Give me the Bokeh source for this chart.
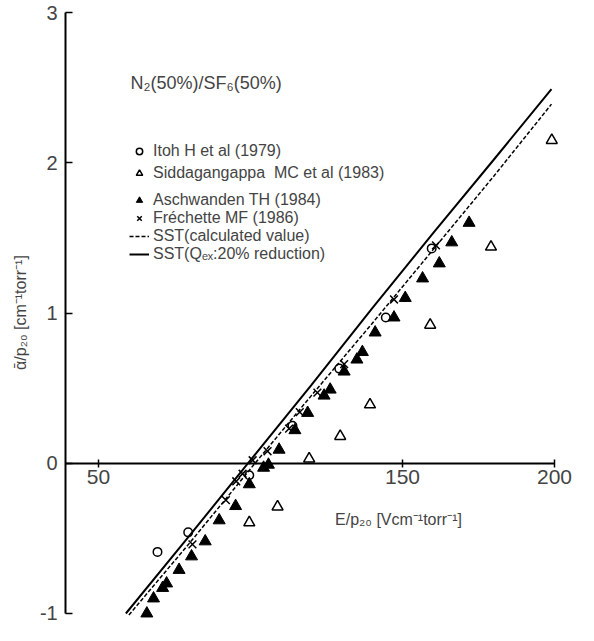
from bokeh.plotting import figure
from bokeh.models import Range1d, LinearAxis, FixedTicker, Legend, LegendItem, Label
from bokeh.embed import file_html
from bokeh.resources import INLINE
import math

# ---- data ----
itoh_x = [69.4, 79.5, 99.6, 113.8, 129.2, 144.5, 159.6]
itoh_y = [-0.59, -0.46, -0.08, 0.25, 0.63, 0.97, 1.43]

sidd_x = [99.6, 108.9, 119.3, 129.5, 139.3, 159.1, 179.1, 199.1]
sidd_y = [-0.395, -0.29, 0.03, 0.18, 0.39, 0.92, 1.44, 2.15]

asch_x = [65.9, 68.1, 71.1, 72.4, 76.5, 80.6, 85.1, 89.7, 95.1, 99.6, 104.3,
          105.9, 109.4, 114.6, 118.8, 124.2, 126.2, 130.8, 135.0, 136.8,
          141.0, 147.2, 150.9, 156.6, 162.1, 166.2, 171.9]
asch_y = [-1.0, -0.90, -0.83, -0.80, -0.71, -0.62, -0.52, -0.38, -0.285,
          -0.14, -0.03, -0.01, 0.09, 0.22, 0.335, 0.45, 0.49, 0.61, 0.69,
          0.74, 0.87, 0.97, 1.10, 1.23, 1.33, 1.47, 1.60]

frec_x = [80.9, 91.9, 95.3, 97.4, 100.7, 105.6, 112.7, 116.2, 122.0, 130.8, 147.2, 161.0]
frec_y = [-0.54, -0.245, -0.12, -0.07, 0.02, 0.08, 0.23, 0.34, 0.47, 0.66, 1.09, 1.45]

calc_x = [60, 80, 101.5, 120, 140, 160, 180, 199]
calc_y = [-1.01, -0.53, 0.0, 0.45, 0.93, 1.42, 1.91, 2.39]

red_x = [59, 80, 100, 120, 140, 160, 180, 199]
red_y = [-1.0, -0.48, 0.02, 0.52, 1.03, 1.53, 2.02, 2.49]

x_ticks = [50, 150, 200]
y_ticks = [-1, 0, 1, 2, 3]

labels = ["Itoh H et al (1979)", "Siddagangappa  MC et al (1983)",
          "Aschwanden TH (1984)", "Fréchette MF (1986)",
          "SST(calculated value)", "SST(Qₑₓ:20% reduction)"]

FONT = "Liberation Sans"

p = figure(width=578, height=625, output_backend="svg", toolbar_location=None,
           x_range=Range1d(17.76, 207.89), y_range=Range1d(-1.0799, 3.0799),
           x_axis_type=None, y_axis_type=None, min_border=0,
           outline_line_color=None)

xaxis = LinearAxis(fixed_location=0, bounds=(39.2, 200),
                   ticker=FixedTicker(ticks=x_ticks),
                   axis_line_width=2, major_tick_in=4, major_tick_out=4,
                   major_tick_line_width=1.5, minor_tick_line_color=None,
                   major_label_text_font=FONT, major_label_text_font_size="21px",
                   major_label_standoff=3)
p.add_layout(xaxis, "below")

yaxis = LinearAxis(fixed_location=39.2, bounds=(-1, 3),
                   ticker=FixedTicker(ticks=y_ticks),
                   axis_line_width=2, major_tick_in=7, major_tick_out=0,
                   major_tick_line_width=1.5, minor_tick_line_color=None,
                   major_label_text_font=FONT, major_label_text_font_size="20px",
                   major_label_standoff=8,
                   major_label_overrides={-1: "-1"})
p.add_layout(yaxis, "left")

r_red = p.line(red_x, red_y, line_color="black", line_width=2)
r_calc = p.line(calc_x, calc_y, line_color="black", line_width=1.5, line_dash="4 2")

r_itoh = p.scatter(itoh_x, itoh_y, marker="circle", size=8.5, fill_color=None,
                   line_color="black", line_width=1.5)
r_sidd = p.scatter(sidd_x, sidd_y, marker="triangle", size=11, fill_color=None,
                   line_color="black", line_width=1.5)
r_asch = p.scatter(asch_x, asch_y, marker="triangle", size=12, fill_color="black",
                   line_color="black", line_width=1)
r_frec = p.scatter(frec_x, frec_y, marker="x", size=11, line_color="black",
                   line_width=1.5)

common = dict(border_line_color=None, background_fill_alpha=0,
              label_text_font=FONT, label_text_font_size="16px",
              glyph_width=20, glyph_height=16, label_height=16,
              padding=0, margin=0, label_standoff=4)

legend1 = Legend(items=[LegendItem(label=labels[0], renderers=[r_itoh]),
                        LegendItem(label=labels[1], renderers=[r_sidd])],
                 location=(129, 443), spacing=4, **common)
legend2 = Legend(items=[LegendItem(label=labels[2], renderers=[r_asch]),
                        LegendItem(label=labels[3], renderers=[r_frec]),
                        LegendItem(label=labels[4], renderers=[r_calc]),
                        LegendItem(label=labels[5], renderers=[r_red])],
                 location=(129, 362), spacing=0, **common)
p.add_layout(legend1)
p.add_layout(legend2)

p.add_layout(Label(x=130, y=543, x_units="screen", y_units="screen",
                   text="N₂(50%)/SF₆(50%)", text_font=FONT,
                   text_font_size="18px", text_baseline="middle"))
p.add_layout(Label(x=398, y=106, x_units="screen", y_units="screen",
                   text="E/p₂₀ [Vcm⁻¹torr⁻¹]", text_font=FONT,
                   text_font_size="16px", text_align="center",
                   text_baseline="middle"))
p.add_layout(Label(x=20, y=313, x_units="screen", y_units="screen",
                   text="ᾱ/p₂₀ [cm⁻¹torr⁻¹]", text_font=FONT,
                   text_font_size="16px", text_align="center",
                   text_baseline="middle", angle=math.pi / 2))

open("out.html", "w").write(file_html(p, INLINE))
